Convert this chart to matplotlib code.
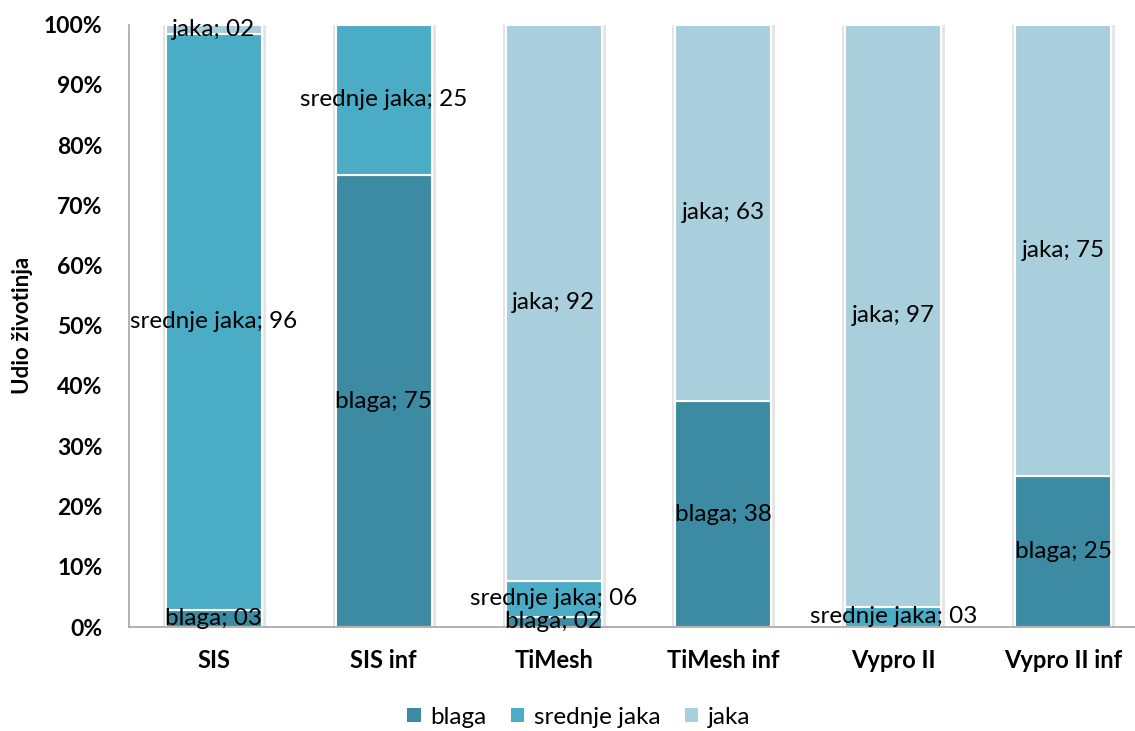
import numpy as np
import matplotlib
matplotlib.use('Agg')
import matplotlib.pyplot as plt
import matplotlib.patheffects as pe
from matplotlib.ticker import PercentFormatter

plt.rcParams['font.family'] = ['Lato', 'DejaVu Sans']

kategorije = ['SIS', 'SIS inf', 'TiMesh', 'TiMesh inf', 'Vypro II', 'Vypro II inf']
serije = ['blaga', 'srednje jaka', 'jaka']
blaga = [2.9, 75.0, 1.7, 37.5, 0.0, 25.0]
srednje_jaka = [95.5, 25.0, 5.9, 0.0, 3.4, 0.0]
jaka = [1.6, 0.0, 92.4, 62.5, 96.6, 75.0]
boje = ['#3D8BA3', '#4BACC6', '#A9CEDC']

fig = plt.figure(figsize=(11.35, 7.31), dpi=100)
ax = fig.add_axes([129/1135, 104/731, 1019/1135, 602.5/731])

x = np.arange(len(kategorije))
sirina = 0.565
ukupno = np.array(blaga) + np.array(srednje_jaka) + np.array(jaka)

# sjena oko cijelog stupca
pozadina = ax.bar(x, ukupno, sirina, color='white', edgecolor='white', linewidth=1, zorder=1)
for b in pozadina:
    b.set_path_effects([pe.Stroke(linewidth=5, foreground='#e4e4e4'), pe.Normal()])

dno = np.zeros(len(kategorije))
for ime, vrijednosti, boja in zip(serije, [blaga, srednje_jaka, jaka], boje):
    v = np.array(vrijednosti)
    ima = v > 0
    ax.bar(x[ima], v[ima], sirina, bottom=dno[ima], color=boja, edgecolor='white',
           linewidth=1.5, zorder=2)
    ax.bar([np.nan], [np.nan], color=boja, label=ime)
    for xi, vi, di in zip(x, v, dno):
        if vi > 0:
            ax.text(xi, di + vi / 2, '{}; {:02d}'.format(ime, int(vi + 0.5)),
                    ha='center', va='center', fontsize=17.5, color='black', zorder=5)
    dno += v

ax.set_ylim(0, 100)
ax.set_xlim(-0.5, 5.5)
ax.set_yticks(np.arange(0, 101, 10))
ax.yaxis.set_major_formatter(PercentFormatter(decimals=0))
ax.set_xticks(x)
ax.set_xticklabels(kategorije)
ax.tick_params(axis='both', length=0)
ax.tick_params(axis='x', pad=16, labelsize=17)
ax.tick_params(axis='y', pad=19, labelsize=16.5)
for lab in ax.get_xticklabels() + ax.get_yticklabels():
    lab.set_fontweight('bold')
ax.set_ylabel('Udio životinja', fontsize=16, fontweight='bold', labelpad=8)

for s in ['top', 'right']:
    ax.spines[s].set_visible(False)
for s in ['left', 'bottom']:
    ax.spines[s].set_color('#a6a6a6')
    ax.spines[s].set_linewidth(1.2)

fig.legend(loc='center', bbox_to_anchor=(579/1135, 1 - 717/731), ncol=3,
           frameon=False, fontsize=17.5, handlelength=0.55, handleheight=0.55,
           handletextpad=0.4, columnspacing=1.0)

fig.savefig('out.png', dpi=100)
